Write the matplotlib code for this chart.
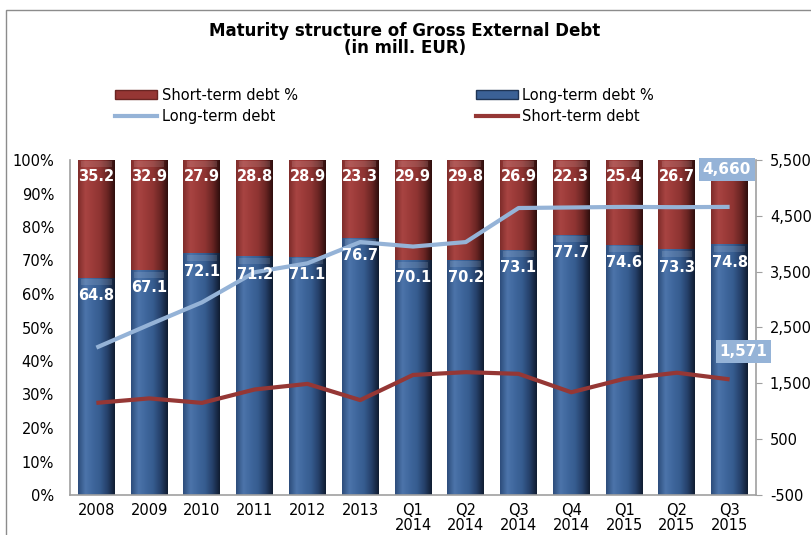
import numpy as np
import matplotlib
matplotlib.use("Agg")
import matplotlib.pyplot as plt
from matplotlib.colors import LinearSegmentedColormap
from matplotlib.patches import Rectangle
from matplotlib.lines import Line2D
from matplotlib.ticker import FuncFormatter, FixedLocator

# ---- data -------------------------------------------------------------
periods = ["2008", "2009", "2010", "2011", "2012", "2013",
           "Q1\n2014", "Q2\n2014", "Q3\n2014", "Q4\n2014",
           "Q1\n2015", "Q2\n2015", "Q3\n2015"]
long_pct = [64.8, 67.1, 72.1, 71.2, 71.1, 76.7, 70.1, 70.2, 73.1, 77.7, 74.6, 73.3, 74.8]
short_pct = [35.2, 32.9, 27.9, 28.8, 28.9, 23.3, 29.9, 29.8, 26.9, 22.3, 25.4, 26.7, 25.2]
long_debt = [2140, 2550, 2950, 3490, 3650, 4030, 3950, 4030, 4640, 4650, 4660, 4655, 4660]
short_debt = [1150, 1230, 1150, 1390, 1490, 1200, 1650, 1700, 1670, 1340, 1580, 1690, 1571]
pct_ticks = [0, 10, 20, 30, 40, 50, 60, 70, 80, 90, 100]
amount_ticks = [-500, 500, 1500, 2500, 3500, 4500, 5500]

# ---- styling ----------------------------------------------------------
BLUE = "#3B6196"
RED = "#963634"
LBLUE = "#95B3D7"
DRED = "#953735"
GREY = "#A0A0A0"

blue_cmap = LinearSegmentedColormap.from_list(
    "bluebar", ["#2C4C7A", "#4C74AA", "#3F679D", "#365C8F", "#25406A", "#0F1C30"])
red_cmap = LinearSegmentedColormap.from_list(
    "redbar", ["#7E2C2A", "#A84442", "#9C3B39", "#8E3432", "#6A2523", "#2E0E0D"])

plt.rcParams["font.family"] = ["DejaVu Sans"]

fig = plt.figure(figsize=(8.11, 5.35), dpi=100)
fig.patches.append(Rectangle((6 / 811, -0.1), 2, 1 - 10 / 535 + 0.1,
                             transform=fig.transFigure, fill=False,
                             edgecolor="#8C8C8C", linewidth=1.0))

ax = fig.add_axes([70 / 811, 40 / 535, (756 - 70) / 811, (495 - 160) / 535])
x = np.arange(len(periods))
width = 0.70

long_bars = ax.bar(x, long_pct, width, color=BLUE, edgecolor="none", zorder=2)
short_bars = ax.bar(x, short_pct, width, bottom=long_pct, color=RED,
                    edgecolor="none", zorder=2)

# horizontal shading inside every bar segment
grad = np.linspace(0, 1, 256).reshape(1, -1)
for bars, cmap in ((long_bars, blue_cmap), (short_bars, red_cmap)):
    for p in bars:
        x0, y0 = p.get_x(), p.get_y()
        im = ax.imshow(grad, extent=[x0, x0 + p.get_width(), y0, y0 + p.get_height()],
                       aspect="auto", cmap=cmap, zorder=2.5, interpolation="bilinear")
        im.set_clip_path(p)
        # lighter bevel band at the top of each segment
        bev = min(2.2, p.get_height() * 0.1)
        ax.fill_between([x0 + 0.06, x0 + p.get_width() - 0.06],
                        y0 + p.get_height() - bev, y0 + p.get_height() - 0.4,
                        color="white", alpha=0.12, linewidth=0, zorder=2.6)

ax.set_xlim(-0.5, len(periods) - 0.5)
ax.set_ylim(0, 100)
ax.yaxis.set_major_locator(FixedLocator(pct_ticks))
ax.yaxis.set_major_formatter(FuncFormatter(lambda v, _: f"{v:.0f}%"))
ax.set_xticks(x)
ax.set_xticklabels(periods, fontsize=10.5, linespacing=1.0)
ax.tick_params(axis="y", length=0, labelsize=10.5, pad=11.5)
ax.tick_params(axis="x", length=0, pad=6)
for side in ("top", "right"):
    ax.spines[side].set_visible(False)
for side in ("left", "bottom"):
    ax.spines[side].set_color(GREY)
    ax.spines[side].set_linewidth(1.2)

# ---- amounts on the secondary axis -----------------------------------
ax2 = ax.twinx()
ax2.set_ylim(-500, 5500)
ax2.yaxis.set_major_locator(FixedLocator(amount_ticks))
ax2.yaxis.set_major_formatter(FuncFormatter(lambda v, _: f"{v:,.0f}"))
ax2.tick_params(axis="y", direction="out", length=4, color=GREY, labelsize=10.5, pad=6)
for side in ("top", "left", "bottom"):
    ax2.spines[side].set_visible(False)
ax2.spines["right"].set_color(GREY)
ax2.spines["right"].set_linewidth(1.2)

ax2.plot(x, long_debt, color=LBLUE, linewidth=3, solid_capstyle="butt", zorder=3)
ax2.plot(x, short_debt, color=DRED, linewidth=3, solid_capstyle="butt", zorder=3)

# percentage labels, placed just inside the top of each segment
for i in x:
    ax2.text(i, long_pct[i] - 5.3, f"{long_pct[i]:.1f}", transform=ax.transData,
             ha="center", va="center", color="white", fontsize=10.5,
             fontweight="bold", zorder=4)
    ax2.text(i, 100 - 5.0, f"{short_pct[i]:.1f}", transform=ax.transData,
             ha="center", va="center", color="white", fontsize=10.5,
             fontweight="bold", zorder=4)

# value callouts for the latest period
last = len(periods) - 1
box = dict(boxstyle="square,pad=0.25", facecolor=LBLUE, edgecolor="none")
ax2.annotate(f"{long_debt[last]:,}", (x[last], long_debt[last]),
             xytext=(-2, 27), textcoords="offset points", ha="center", va="center",
             color="white", fontsize=11, fontweight="bold", bbox=box,
             zorder=6, annotation_clip=False)
ax2.annotate(f"{short_debt[last]:,}", (x[last], short_debt[last]),
             xytext=(10, 20), textcoords="offset points", ha="center", va="center",
             color="white", fontsize=11, fontweight="bold", bbox=box,
             zorder=6, annotation_clip=False)

# ---- title and legend -------------------------------------------------
fig.text(405 / 811, 1 - 31 / 535, "Maturity structure of Gross External Debt",
         ha="center", va="center", fontsize=12, fontweight="bold")
fig.text(405 / 811, 1 - 48 / 535, "(in mill. EUR)", ha="center", va="center",
         fontsize=12, fontweight="bold")

handles = [
    Rectangle((0, 0), 1, 1, facecolor=RED, edgecolor="#6A2523"),
    Line2D([], [], color=LBLUE, linewidth=3),
    Rectangle((0, 0), 1, 1, facecolor=BLUE, edgecolor="#1F3555"),
    Line2D([], [], color=DRED, linewidth=3),
]
labels = ["Short-term debt %", "Long-term debt", "Long-term debt %", "Short-term debt"]
fig.legend(handles, labels, ncol=2, loc="upper left",
           bbox_to_anchor=(115 / 811, 1 - 88 / 535), frameon=False,
           prop={"size": 10.5},
           handlelength=2.9, handleheight=0.55, handletextpad=0.3,
           columnspacing=12.2, labelspacing=0.4, borderaxespad=0, borderpad=0)

fig.savefig("out.png", dpi=100)
